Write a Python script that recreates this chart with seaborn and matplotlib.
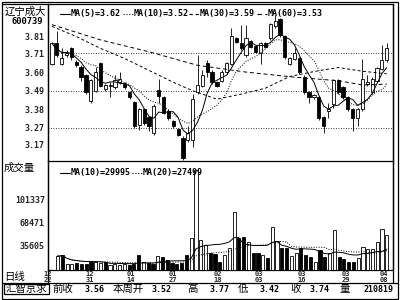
import numpy as np
import pandas as pd
import matplotlib
matplotlib.use("Agg")
import matplotlib.pyplot as plt
import seaborn as sns
from matplotlib.lines import Line2D
from matplotlib.patches import Rectangle

# ---------------- data ----------------
opens = [3.65, 3.77, 3.65, 3.70, 3.74, 3.66, 3.63, 3.58, 3.43, 3.49,
         3.65, 3.50, 3.52, 3.51, 3.54, 3.53, 3.48, 3.42, 3.29, 3.38,
         3.33, 3.24, 3.49, 3.45, 3.37, 3.31, 3.26, 3.21, 3.20, 3.20,
         3.48, 3.52, 3.65, 3.60, 3.54, 3.55, 3.60, 3.65, 3.80, 3.77,
         3.70, 3.78, 3.75, 3.71, 3.77, 3.80, 3.87, 3.91, 3.81, 3.65,
         3.68, 3.68, 3.57, 3.48, 3.45, 3.45, 3.33, 3.37, 3.41, 3.55,
         3.51, 3.45, 3.38, 3.33, 3.38, 3.53, 3.48, 3.55, 3.62, 3.67]
highs = [3.78, 3.84, 3.74, 3.73, 3.75, 3.67, 3.64, 3.59, 3.56, 3.63,
         3.66, 3.53, 3.54, 3.58, 3.60, 3.54, 3.49, 3.43, 3.39, 3.39,
         3.34, 3.41, 3.56, 3.46, 3.38, 3.32, 3.27, 3.22, 3.28, 3.47,
         3.70, 3.61, 3.67, 3.61, 3.55, 3.61, 3.66, 3.86, 3.81, 3.88,
         3.88, 3.79, 3.76, 3.78, 3.78, 3.89, 3.94, 3.92, 3.82, 3.69,
         3.74, 3.69, 3.58, 3.49, 3.47, 3.46, 3.34, 3.42, 3.56, 3.56,
         3.52, 3.46, 3.39, 3.39, 3.68, 3.58, 3.57, 3.63, 3.76, 3.77]
lows = [3.64, 3.69, 3.64, 3.69, 3.67, 3.63, 3.55, 3.47, 3.42, 3.48,
        3.51, 3.49, 3.45, 3.50, 3.53, 3.50, 3.44, 3.27, 3.26, 3.29,
        3.25, 3.23, 3.42, 3.35, 3.32, 3.27, 3.22, 3.08, 3.19, 3.16,
        3.47, 3.51, 3.57, 3.53, 3.51, 3.54, 3.59, 3.64, 3.77, 3.73,
        3.69, 3.74, 3.71, 3.65, 3.74, 3.79, 3.86, 3.81, 3.68, 3.64,
        3.67, 3.59, 3.47, 3.42, 3.44, 3.32, 3.24, 3.33, 3.39, 3.47,
        3.44, 3.37, 3.25, 3.28, 3.37, 3.52, 3.47, 3.54, 3.61, 3.66]
closes = [3.77, 3.70, 3.68, 3.71, 3.69, 3.64, 3.57, 3.48, 3.55, 3.60,
          3.52, 3.52, 3.52, 3.55, 3.56, 3.51, 3.45, 3.28, 3.38, 3.30,
          3.28, 3.40, 3.46, 3.36, 3.33, 3.28, 3.23, 3.09, 3.24, 3.44,
          3.52, 3.58, 3.60, 3.54, 3.52, 3.60, 3.65, 3.81, 3.78, 3.74,
          3.80, 3.75, 3.72, 3.77, 3.75, 3.88, 3.90, 3.82, 3.69, 3.68,
          3.71, 3.60, 3.48, 3.45, 3.46, 3.33, 3.28, 3.38, 3.55, 3.48,
          3.45, 3.38, 3.33, 3.38, 3.56, 3.54, 3.56, 3.62, 3.67, 3.74]
volumes = [20000, 21000, 9000, 8000, 10000, 8000, 9000, 12000, 11000, 10000,
           12000, 7000, 8000, 7000, 8000, 7000, 9000, 21000, 12000, 10000,
           9000, 20000, 19000, 14000, 10000, 8000, 10000, 22000, 46000, 144000,
           43000, 36000, 24000, 23000, 12000, 22000, 31000, 83000, 46000, 47000,
           40000, 24000, 24000, 22000, 17000, 62000, 42000, 31000, 31000, 20000,
           24000, 32000, 22000, 18000, 12000, 28000, 18000, 24000, 58000, 18000,
           16000, 12000, 12000, 17000, 33000, 30000, 30000, 40000, 59000, 50000]

ma30_idx = [0, 5, 10, 15, 20, 25, 29, 34, 39, 44, 49, 54, 59, 64, 69]
ma30_val = [3.87, 3.81, 3.74, 3.68, 3.61, 3.54, 3.49, 3.44, 3.47, 3.505,
            3.574, 3.603, 3.627, 3.605, 3.59]
ma60_idx = [0, 10, 20, 30, 40, 50, 59, 64, 69]
ma60_val = [3.88, 3.79, 3.72, 3.64, 3.60, 3.57, 3.549, 3.524, 3.529]

price_ticks = [3.81, 3.71, 3.60, 3.49, 3.38, 3.27, 3.17]
grid_levels = [3.71, 3.49, 3.27]
vol_ticks = [35605, 68471, 101337]
date_labels = ["12\n22", "12\n31", "01\n14", "01\n27", "02\n18",
               "03\n03", "03\n16", "03\n29", "04\n08"]
date_pos = [-2.0, 6.8, 15.3, 24.2, 33.6, 42.1, 51.1, 60.4, 68.3]

legend_price = ["MA(5)=3.62", "MA(10)=3.52", "MA(30)=3.59", "MA(60)=3.53"]
legend_vol = ["MA(10)=29995", "MA(20)=27499"]
stock_name = "辽宁成大"
stock_code = "600739"
bottom_items = [("前收", "3.56"), ("本周开", "3.52"), ("高", "3.77"),
                ("低", "3.42"), ("收", "3.74"), ("量", "210819")]

# ---------------- style ----------------
sns.set_theme(style="white")
plt.rcParams["font.family"] = ["Noto Sans CJK SC", "DejaVu Sans"]
MONO = "DejaVu Sans Mono"
CJK = ["Noto Sans CJK SC", "DejaVu Sans"]

W, H = 400, 300
fig = plt.figure(figsize=(4, 3), dpi=100)
fig.patch.set_facecolor("white")


def fx(px):
    return px / W


def fy(py):
    return 1 - py / H


ax = fig.add_axes([fx(48), fy(161), fx(393) - fx(48), fy(4) - fy(161)])
axv = fig.add_axes([fx(48), fy(270), fx(393) - fx(48), fy(161) - fy(270)])

df = pd.DataFrame({"open": opens, "high": highs, "low": lows,
                   "close": closes, "volume": volumes})
df["i"] = np.arange(len(df))
df["ma5"] = df["close"].rolling(5, min_periods=1).mean()
df["ma10"] = df["close"].rolling(10, min_periods=1).mean()
df["vma10"] = df["volume"].rolling(10, min_periods=1).mean()
df["vma20"] = df["volume"].rolling(20, min_periods=1).mean()
up = (df["close"] >= df["open"]).values
x = df["i"].values

# candles
ax.vlines(x, df["low"], df["high"], color="black", lw=0.6, zorder=2)
body_lo = np.minimum(df["open"], df["close"])
body_h = np.abs(df["close"] - df["open"]) + 0.002
ax.bar(x, body_h, bottom=body_lo, width=0.66,
       color=np.where(up, "white", "black"), edgecolor="black",
       linewidth=0.6, zorder=3)

lw = 0.7
sns.lineplot(x=df["i"], y=df["ma5"], ax=ax, color="black", linewidth=lw,
             linestyle="-", zorder=4, legend=False)
sns.lineplot(x=df["i"], y=df["ma10"], ax=ax, color="black", linewidth=lw,
             linestyle=(0, (1, 1.6)), zorder=4, legend=False)
sns.lineplot(x=ma30_idx, y=ma30_val, ax=ax, color="black", linewidth=lw,
             linestyle=(0, (3, 2.5)), zorder=4, legend=False)
sns.lineplot(x=ma60_idx, y=ma60_val, ax=ax, color="black", linewidth=lw,
             linestyle=(0, (4, 3)), zorder=4, legend=False)

for g in grid_levels:
    ax.axhline(g, color="black", lw=0.6, linestyle=(0, (1, 2)), zorder=1)

ax.set_xlim(-0.82, 70.3)
ax.set_ylim(3.075, 4.002)
ax.set_yticks(price_ticks)
ax.set_yticklabels([f"{t:.2f}" for t in price_ticks], fontfamily=MONO,
                   fontweight="bold", fontsize=6)
ax.set_xticks([])
ax.tick_params(axis="y", length=0, pad=2.2)
ax.set_xlabel("")
ax.set_ylabel("")
for s in ["left", "top", "right"]:
    ax.spines[s].set_visible(True)
    ax.spines[s].set_color("black")
    ax.spines[s].set_linewidth(0.9)
ax.spines["bottom"].set_visible(False)

# volume
axv.bar(x, df["volume"], width=0.66, color=np.where(up, "white", "black"),
        edgecolor="black", linewidth=0.6, zorder=3)
sns.lineplot(x=df["i"], y=df["vma10"], ax=axv, color="black", linewidth=lw,
             linestyle="-", zorder=4, legend=False)
sns.lineplot(x=df["i"], y=df["vma20"], ax=axv, color="black", linewidth=lw,
             linestyle=(0, (1, 1.6)), zorder=4, legend=False)
axv.set_xlim(-0.82, 70.3)
axv.set_ylim(0, 156400)
axv.set_yticks(vol_ticks)
axv.set_yticklabels([str(v) for v in vol_ticks], fontfamily=MONO,
                    fontweight="bold", fontsize=6)
axv.set_xticks(date_pos)
axv.set_xticklabels(date_labels, fontfamily=MONO, fontweight="bold",
                    fontsize=5.0, linespacing=0.95)
axv.tick_params(axis="y", length=0, pad=2.2)
axv.tick_params(axis="x", length=0, pad=1.0)
axv.set_xlabel("")
axv.set_ylabel("")
for s in ["left", "top", "right", "bottom"]:
    axv.spines[s].set_visible(True)
    axv.spines[s].set_color("black")
    axv.spines[s].set_linewidth(0.9)

# ---------------- texts / legends ----------------
fig.text(fx(5), fy(12), stock_name, family=CJK, fontsize=7.5,
         va="center", ha="left", color="black")
fig.text(fx(43), fy(22), stock_code, family=MONO, fontweight="bold",
         fontsize=6.3, va="center", ha="right", color="black")
fig.text(fx(4), fy(168), "成交量", family=CJK, fontsize=7.5,
         va="center", ha="left", color="black")
fig.text(fx(4), fy(277), "日线", family=CJK, fontsize=7.5,
         va="center", ha="left", color="black")


def legend_line(x0, x1, yy, ls):
    fig.add_artist(Line2D([fx(x0), fx(x1)], [fy(yy), fy(yy)], color="black",
                          lw=0.8, linestyle=ls))


styles = ["-", (0, (1, 1.6)), (0, (3, 2.5)), (0, (4, 3))]
px_starts = [71, 134, 200, 268]
for txt, xs, ls in zip(legend_price, px_starts, styles):
    legend_line(xs - 11, xs - 1, 13.5, ls)
    fig.text(fx(xs), fy(13.5), txt, family=MONO, fontweight="bold",
             fontsize=6.0, va="center", ha="left", color="black")

for txt, xs, ls in zip(legend_vol, [71, 143], styles[:2]):
    legend_line(xs - 11, xs - 1, 172.5, ls)
    fig.text(fx(xs), fy(172.5), txt, family=MONO, fontweight="bold",
             fontsize=6.0, va="center", ha="left", color="black")

# bottom info row
fig.text(fx(6), fy(289), "汇智京求", family=CJK, fontsize=7.5,
         va="center", ha="left", color="black")
fig.add_artist(Rectangle((fx(4), fy(294)), fx(49) - fx(4), fy(284) - fy(294),
                         fill=False, edgecolor="black", lw=0.9))
label_x = [52, 113, 187, 238, 290, 340]
value_x = [105, 172, 230, 280, 330, 393]
for (lab, val), lx, vx in zip(bottom_items, label_x, value_x):
    fig.text(fx(lx), fy(289), lab, family=CJK, fontsize=7.5,
             va="center", ha="left", color="black")
    fig.text(fx(vx), fy(289), val, family=MONO, fontweight="bold",
             fontsize=6.0, va="center", ha="right", color="black")

# frame lines
fig.add_artist(Rectangle((fx(1.5), fy(298.5)), fx(397.5) - fx(1.5),
                         fy(1.5) - fy(298.5), fill=False, edgecolor="black",
                         lw=0.9))
fig.add_artist(Line2D([fx(1.5), fx(397.5)], [fy(283), fy(283)],
                      color="black", lw=0.9))
fig.add_artist(Line2D([fx(1.5), fx(48)], [fy(4), fy(4)], color="black",
                      lw=0.9))
fig.add_artist(Line2D([fx(48), fx(48)], [fy(4), fy(283)], color="black",
                      lw=0.9))
fig.add_artist(Line2D([fx(393), fx(393)], [fy(4), fy(283)], color="black",
                      lw=0.9))

fig.savefig("out.png", dpi=100, facecolor="white")
